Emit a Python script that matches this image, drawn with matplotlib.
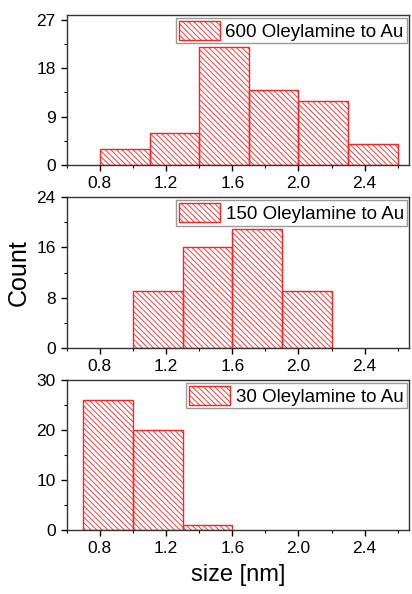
import numpy as np
import matplotlib
matplotlib.use('Agg')
import matplotlib.pyplot as plt
from matplotlib.ticker import MultipleLocator

# данные гистограмм (левые края бинов, ширина 0.3 нм)
bin_width = 0.3
left_600 = [0.8, 1.1, 1.4, 1.7, 2.0, 2.3]
count_600 = [3, 6, 22, 14, 12, 4]
left_150 = [1.0, 1.3, 1.6, 1.9]
count_150 = [9, 16, 19, 9]
left_30 = [0.7, 1.0, 1.3]
count_30 = [26, 20, 1]

labels = ['600 Oleylamine to Au', '150 Oleylamine to Au', '30 Oleylamine to Au']
y_ticks = [[0, 9, 18, 27], [0, 8, 16, 24], [0, 10, 20, 30]]
x_ticks = [0.8, 1.2, 1.6, 2.0, 2.4]

plt.rcParams['font.family'] = ['Liberation Sans', 'DejaVu Sans']
plt.rcParams['hatch.linewidth'] = 0.6
plt.rcParams['hatch.color'] = '#ff6a6a'

fig = plt.figure(figsize=(4.12, 5.94), dpi=100)

boxes = [
	[0.162, 0.7222, 0.8316, 0.2525],
	[0.162, 0.4146, 0.8316, 0.2532],
	[0.162, 0.1077, 0.8316, 0.2526],
]
ylims = [(0, 27.9), (0, 24), (0, 30)]
data = [(left_600, count_600), (left_150, count_150), (left_30, count_30)]

axes = []
for i in range(3):
	ax = fig.add_axes(boxes[i])
	lefts, counts = data[i]
	ax.bar(lefts, counts, width=bin_width, align='edge',
		facecolor='none', edgecolor='#ff2020', linewidth=1.0,
		hatch='\\\\\\\\\\\\', label=labels[i])

	ax.set_xlim(0.6, 2.67)
	ax.set_ylim(*ylims[i])
	ax.set_xticks(x_ticks)
	ax.set_xticklabels(['%.1f' % t for t in x_ticks])
	ax.xaxis.set_minor_locator(MultipleLocator(0.2))
	ax.set_yticks(y_ticks[i])
	ax.yaxis.set_minor_locator(MultipleLocator(y_ticks[i][1] / 2))

	ax.tick_params(which='major', direction='out', length=4, width=1,
		labelsize=12.5, pad=4, top=False, right=False)
	ax.tick_params(which='minor', direction='out', length=2.5, width=0.8,
		top=False, right=False)
	for s in ax.spines.values():
		s.set_color('#333333')
		s.set_linewidth(1.0)

	leg = ax.legend(loc='upper right', fontsize=13.5, frameon=True, fancybox=False,
		borderpad=0.15, handlelength=2.2, handleheight=1.2, handletextpad=0.3,
		borderaxespad=0.15, edgecolor='#808080')
	leg.get_frame().set_linewidth(1.0)
	axes.append(ax)

axes[1].set_ylabel('Count', fontsize=18, labelpad=4)
axes[2].set_xlabel('size [nm]', fontsize=17, labelpad=6)

fig.savefig('out.png', dpi=100)
